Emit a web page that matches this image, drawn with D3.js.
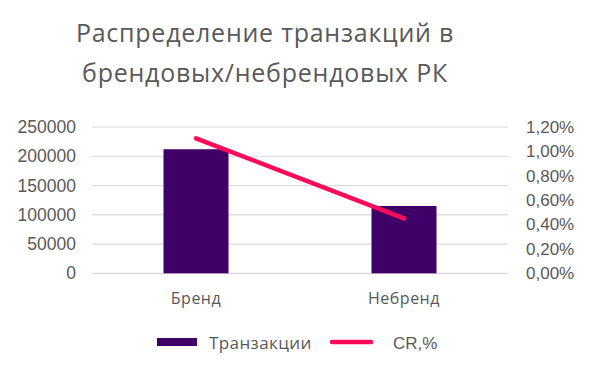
<!DOCTYPE html>
<html><head><meta charset="utf-8">
<script src="https://cdn.jsdelivr.net/npm/d3@7"></script>
<style>body{margin:0;background:#fff}svg{display:block}</style>
</head><body>
<svg id="c" width="592" height="372"></svg>
<script>
const categories = ["Бренд", "Небренд"];
const transactions = [212000, 115000];
const crPercent = [1.107, 0.45];
const leftTicks = [0, 50000, 100000, 150000, 200000, 250000];
const rightTicks = [0, 0.2, 0.4, 0.6, 0.8, 1.0, 1.2];
const titleLines = ["Распределение транзакций в", "брендовых/небрендовых РК"];
const legendLabels = ["Транзакции", "CR,%"];

const svg = d3.select("#c");
const L = 92, R = 508, T = 127, B = 273.3;
const x = d3.scaleBand().domain(categories).range([L, R]).paddingInner(0).paddingOuter(0);
const yL = d3.scaleLinear().domain([0, 250000]).range([B, T]);
const yR = d3.scaleLinear().domain([0, 1.2]).range([B, T]);
const barColor = "#3f0068", lineColor = "#ff0a5a", textColor = "#595959";
const geo = "'Open Sans', Lato, sans-serif";

svg.append("g").selectAll("text").data(titleLines).join("text")
  .attr("x", 265).attr("y", (d, i) => 42 + i * 40)
  .attr("text-anchor", "middle").attr("font-family", geo)
  .attr("font-size", 25).attr("letter-spacing", 0.75).attr("fill", textColor).text(d => d);

// gridlines
svg.append("g").selectAll("line").data(leftTicks).join("line")
  .attr("x1", L).attr("x2", R).attr("y1", d => yL(d)).attr("y2", d => yL(d))
  .attr("stroke", "#d9d9d9").attr("stroke-width", 1.2);

// left axis
const axL = svg.append("g").attr("transform", `translate(${L - 16},0)`)
  .call(d3.axisLeft(yL).tickValues(leftTicks).tickSize(0).tickPadding(0).tickFormat(d3.format("d")));
axL.select(".domain").remove();
axL.selectAll("text").attr("font-family", "'Liberation Sans', Arial, sans-serif").attr("font-size", 17.5).attr("fill", textColor);

// right axis
const axR = svg.append("g").attr("transform", `translate(${R + 18},0)`)
  .call(d3.axisRight(yR).tickValues(rightTicks).tickSize(0).tickPadding(0)
    .tickFormat(d => d.toFixed(2).replace(".", ",") + "%"));
axR.select(".domain").remove();
axR.selectAll("text").attr("font-family", "'Liberation Sans', Arial, sans-serif").attr("font-size", 17).attr("fill", textColor);

// bars
const bw = x.bandwidth() * 0.3125;
svg.append("g").selectAll("rect").data(categories).join("rect")
  .attr("x", d => x(d) + x.bandwidth() / 2 - bw / 2)
  .attr("width", bw)
  .attr("y", (d, i) => yL(transactions[i]))
  .attr("height", (d, i) => B - yL(transactions[i]))
  .attr("fill", barColor);

// line
const line = d3.line().x(d => x(d[0]) + x.bandwidth() / 2).y(d => yR(d[1]));
svg.append("path").datum(categories.map((c, i) => [c, crPercent[i]]))
  .attr("d", line).attr("fill", "none").attr("stroke", lineColor)
  .attr("stroke-width", 4.5).attr("stroke-linecap", "round");

// category labels
svg.append("g").selectAll("text").data(categories).join("text")
  .attr("x", d => x(d) + x.bandwidth() / 2).attr("y", 304)
  .attr("text-anchor", "middle").attr("font-family", geo)
  .attr("font-size", 16).attr("letter-spacing", 0.5).attr("fill", textColor).text(d => d);

// legend
const lg = svg.append("g");
lg.append("rect").attr("x", 157).attr("y", 338).attr("width", 40).attr("height", 8).attr("fill", barColor);
lg.append("text").attr("x", 209).attr("y", 349).attr("font-family", geo)
  .attr("font-size", 17).attr("letter-spacing", 0.4).attr("fill", textColor).text(legendLabels[0]);
lg.append("line").attr("x1", 332).attr("x2", 371).attr("y1", 342).attr("y2", 342)
  .attr("stroke", lineColor).attr("stroke-width", 4.5).attr("stroke-linecap", "round");
lg.append("text").attr("x", 393).attr("y", 349).attr("font-family", "'Liberation Sans', Arial, sans-serif")
  .attr("font-size", 17).attr("fill", textColor).text(legendLabels[1]);
</script>
</body></html>
